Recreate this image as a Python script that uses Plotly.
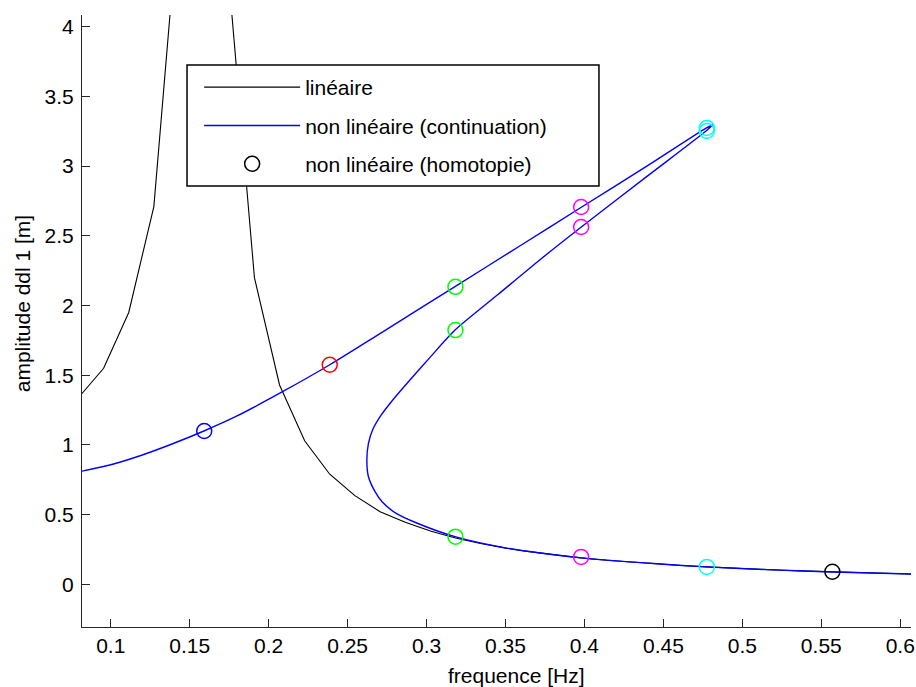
import plotly.graph_objects as go

# ---- data ----
# linear response (black)
lin_freq = [0.0796, 0.0955, 0.1114, 0.1273, 0.1432, 0.1592, 0.1751, 0.1910, 0.2069,
            0.2228, 0.2387, 0.2546, 0.2706, 0.2865, 0.3024, 0.3183, 0.3342, 0.3501,
            0.3661, 0.3820, 0.3979, 0.4138, 0.4297, 0.4456, 0.4615, 0.4775, 0.4934,
            0.5093, 0.5252, 0.5411, 0.5570, 0.5730, 0.5889, 0.6048, 0.6207]
lin_amp = [1.34, 1.55, 1.95, 2.71, 4.85, 12.0, 4.30, 2.20, 1.43,
           1.03, 0.79, 0.636, 0.521, 0.446, 0.383, 0.333, 0.293, 0.260,
           0.233, 0.210, 0.190, 0.173, 0.159, 0.146, 0.135, 0.125, 0.116,
           0.108, 0.101, 0.095, 0.089, 0.083, 0.079, 0.074, 0.070]

# nonlinear continuation (blue), in path order
cont_freq = [0.0800, 0.100, 0.120, 0.140, 0.159, 0.180, 0.2085, 0.239, 0.2718, 0.318,
             0.358, 0.398, 0.440, 0.477, 0.4815,
             0.477, 0.440, 0.398, 0.3709, 0.345, 0.318, 0.3022, 0.2896, 0.2790,
             0.2710, 0.2660, 0.2632, 0.2622, 0.2632, 0.2674, 0.2720, 0.2800,
             0.2938, 0.318, 0.350, 0.398, 0.4416, 0.477, 0.520, 0.557, 0.610]
cont_amp = [0.808, 0.858, 0.928, 1.012, 1.100, 1.208, 1.380, 1.577, 1.808, 2.136,
            2.420, 2.705, 3.003, 3.272, 3.298,
            3.252, 2.930, 2.563, 2.320, 2.077, 1.824, 1.628, 1.468, 1.328,
            1.210, 1.112, 1.011, 0.892, 0.772, 0.665, 0.590, 0.515,
            0.440, 0.342, 0.262, 0.190, 0.151, 0.125, 0.104, 0.088, 0.073]

# nonlinear homotopy points
hom_freq = [0.1592, 0.2387, 0.3183, 0.3183, 0.3183, 0.3979, 0.3979, 0.3979,
            0.4775, 0.4775, 0.4775, 0.5570]
hom_amp = [1.100, 1.575, 2.134, 1.824, 0.342, 2.707, 2.563, 0.197,
           3.274, 3.252, 0.125, 0.090]
hom_group = [0, 1, 2, 2, 2, 3, 3, 3, 4, 4, 4, 5]

x_ticks = [0.1, 0.15, 0.2, 0.25, 0.3, 0.35, 0.4, 0.45, 0.5, 0.55, 0.6]
y_ticks = [0, 0.5, 1, 1.5, 2, 2.5, 3, 3.5, 4]

# ---- styles ----
group_colors = ["#0000ff", "#ff0000", "#00ff00", "#ff00ff", "#00ffff", "#000000"]
FONT = "Liberation Sans, Arial, Helvetica, sans-serif"
FS = 21

fig = go.Figure()
fig.add_trace(go.Scatter(x=lin_freq, y=lin_amp, mode="lines", name="linéaire",
                         legendgroup="a",
                         line=dict(color="black", width=1.1)))
fig.add_trace(go.Scatter(x=cont_freq, y=cont_amp, mode="lines",
                         name="non linéaire (continuation)", legendgroup="b",
                         line=dict(color="#0000ff", width=1.4, shape="spline", smoothing=0.7)))

order = [5, 0, 1, 2, 3, 4]
for g in order:
    xs = [f for f, k in zip(hom_freq, hom_group) if k == g]
    ys = [a for a, k in zip(hom_amp, hom_group) if k == g]
    fig.add_trace(go.Scatter(
        x=xs, y=ys, mode="markers",
        name="non linéaire (homotopie)", legendgroup="c",
        showlegend=(g == 5),
        marker=dict(symbol="circle-open", size=15, color=group_colors[g],
                    line=dict(width=1.5, color=group_colors[g]))))

# legend frame (pixel box 187..599 x 65..186)
fig.add_shape(type="rect", xref="paper", yref="paper",
              x0=0.1267, x1=0.6236, y0=0.7206, y1=0.9183,
              fillcolor="white", line=dict(color="black", width=1.5), layer="above")

fig.update_layout(
    width=916, height=687,
    margin=dict(l=82, r=5, t=15, b=60, autoexpand=False),
    paper_bgcolor="white", plot_bgcolor="white",
    font=dict(family=FONT, size=FS, color="black"),
    showlegend=True,
    legend=dict(x=0.1413, y=0.915, xanchor="left", yanchor="top",
                bgcolor="rgba(0,0,0,0)", borderwidth=0,
                font=dict(family=FONT, size=FS, color="black"),
                itemwidth=96, traceorder="grouped", tracegroupgap=8),
    annotations=[
        dict(text="frequence [Hz]", xref="paper", yref="paper", x=0.5247, y=-0.080,
             xanchor="center", yanchor="middle", showarrow=False,
             font=dict(family=FONT, size=FS)),
        dict(text="amplitude ddl 1 [m]", xref="paper", yref="paper", x=-0.0724, y=0.529,
             xanchor="center", yanchor="middle", showarrow=False, textangle=-90,
             font=dict(family=FONT, size=FS)),
    ],
)
fig.update_xaxes(range=[0.0818, 0.6068], tickvals=x_ticks,
                 ticktext=[f"{v:g}" for v in x_ticks], automargin=False,
                 ticks="inside", ticklen=8, tickcolor="#262626", tickwidth=1,
                 showline=True, linecolor="#262626", linewidth=1.2,
                 showgrid=False, zeroline=False)
fig.update_yaxes(range=[-0.306, 4.084], tickvals=y_ticks,
                 ticktext=[f"{v:g}" for v in y_ticks], automargin=False,
                 ticks="inside", ticklen=8, tickcolor="#262626", tickwidth=1,
                 ticklabelstandoff=3,
                 showline=True, linecolor="#262626", linewidth=1.2,
                 showgrid=False, zeroline=False)

fig.write_html("out.html", config={"displayModeBar": False},
               post_script="document.body.style.margin='0';document.body.style.overflow='hidden';")
